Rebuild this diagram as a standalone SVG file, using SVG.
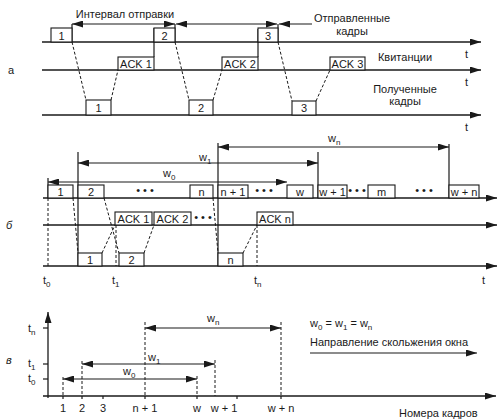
<svg xmlns="http://www.w3.org/2000/svg" width="500" height="419" viewBox="0 0 500 419">
<defs>
<marker id="ah" markerWidth="11" markerHeight="7" refX="11" refY="3.5" orient="auto-start-reverse" markerUnits="userSpaceOnUse">
<path d="M0,0 L11,3.5 L0,7 z" fill="#1a1a1a"/>
</marker>
<style>
.ln{stroke:#1a1a1a;stroke-width:1.2;fill:none}
.ax{stroke:#1a1a1a;stroke-width:1.3;fill:none;marker-end:url(#ah)}
.bx{stroke:#1a1a1a;stroke-width:1.1;fill:#fff}
.ds{stroke:#1a1a1a;stroke-width:1;fill:none;stroke-dasharray:3,2}
.dbl{stroke:#1a1a1a;stroke-width:1.1;fill:none;marker-start:url(#ah);marker-end:url(#ah)}
.one{stroke:#1a1a1a;stroke-width:1.1;fill:none;marker-end:url(#ah)}
text{font-family:"Liberation Sans",Arial,sans-serif;font-size:11px;fill:#1a1a1a}
.c{text-anchor:middle}
.sub{font-size:8px}
</style>
</defs>
<rect width="500" height="419" fill="#fff"/>

<!-- Section a -->
<g id="section-a">
<text x="8" y="74">а</text>
<g id="axes-a">
<line class="ax" x1="42" y1="42" x2="481" y2="42"/>
<line class="ax" x1="42" y1="70" x2="481" y2="70"/>
<line class="ax" x1="42" y1="115" x2="481" y2="115"/>
<text x="465" y="58">t</text>
<text x="465" y="86">t</text>
<text x="465" y="131">t</text>
</g>
<g id="connectors-a">
<line class="dbl" x1="72" y1="24" x2="175" y2="24"/>
<line class="dbl" x1="176" y1="24" x2="277" y2="24"/>
<line class="ln" x1="279" y1="24" x2="312" y2="24" style="marker-start:url(#ah)"/>
<line class="ln" x1="72" y1="24" x2="72" y2="42"/>
<line class="ln" x1="175" y1="24" x2="175" y2="42"/>
<line class="ln" x1="278" y1="24" x2="278" y2="42"/>
<line class="ln" x1="154" y1="28" x2="154" y2="57"/>
<line class="ln" x1="258" y1="29" x2="258" y2="57"/>
<line class="ds" x1="72" y1="42" x2="86" y2="100"/>
<line class="ds" x1="111" y1="100" x2="118" y2="70"/>
<line class="ds" x1="175" y1="42" x2="189" y2="100"/>
<line class="ds" x1="213" y1="100" x2="222" y2="70"/>
<line class="ds" x1="278" y1="42" x2="292" y2="101"/>
<line class="ds" x1="316" y1="101" x2="330" y2="70"/>
</g>
<g id="sent-a1"><rect class="bx" x="51" y="28" width="21" height="14"/><text class="c" x="61.5" y="39.5">1</text></g>
<g id="sent-a2"><rect class="bx" x="154" y="28" width="21" height="14"/><text class="c" x="164.5" y="39.5">2</text></g>
<g id="sent-a3"><rect class="bx" x="258" y="28" width="20" height="14"/><text class="c" x="268" y="39.5">3</text></g>
<g id="ack-a1"><rect class="bx" x="118" y="57" width="36" height="13"/><text class="c" x="136" y="67.5">ACK 1</text></g>
<g id="ack-a2"><rect class="bx" x="222" y="57" width="36" height="13"/><text class="c" x="240" y="67.5">ACK 2</text></g>
<g id="ack-a3"><rect class="bx" x="330" y="57" width="35" height="13"/><text class="c" x="347.5" y="67.5">ACK 3</text></g>
<g id="recv-a1"><rect class="bx" x="86" y="100" width="25" height="15"/><text class="c" x="98.5" y="112">1</text></g>
<g id="recv-a2"><rect class="bx" x="189" y="100" width="24" height="15"/><text class="c" x="201" y="112">2</text></g>
<g id="recv-a3"><rect class="bx" x="292" y="101" width="24" height="14"/><text class="c" x="304" y="112">3</text></g>
<text class="c" x="125" y="18">Интервал отправки</text>
<text class="c" x="352" y="22">Отправленные</text>
<text class="c" x="352" y="35">кадры</text>
<text class="c" x="405" y="61">Квитанции</text>
<text class="c" x="405" y="93">Полученные</text>
<text class="c" x="405" y="105">кадры</text>
</g>

<!-- Section b -->
<g id="section-b">
<text x="6" y="229" font-style="italic">б</text>
<g id="axes-b">
<line class="ax" x1="43" y1="198" x2="497" y2="198"/>
<line class="ax" x1="43" y1="225" x2="497" y2="225"/>
<line class="ax" x1="43" y1="266" x2="497" y2="266"/>
<text x="482" y="284">t</text>
</g>
<g id="connectors-b">
<line class="dbl" x1="218" y1="147" x2="449" y2="147"/>
<line class="dbl" x1="78" y1="163" x2="318" y2="163"/>
<line class="dbl" x1="48" y1="182" x2="287" y2="182"/>
<line class="ln" x1="218" y1="143" x2="218" y2="266"/>
<line class="ln" x1="449" y1="144" x2="449" y2="198"/>
<line class="ln" x1="78" y1="152" x2="78" y2="266"/>
<line class="ln" x1="318" y1="152" x2="318" y2="198"/>
<line class="ln" x1="48" y1="178" x2="48" y2="198"/>
<line class="ds" x1="48" y1="198" x2="48" y2="266"/>
<line class="ds" x1="73" y1="198" x2="78" y2="253"/>
<line class="ds" x1="102" y1="253" x2="115" y2="225"/>
<line class="ds" x1="104" y1="198" x2="119" y2="253"/>
<line class="ds" x1="116" y1="225" x2="116" y2="266"/>
<line class="ds" x1="144" y1="253" x2="154" y2="225"/>
<line class="ds" x1="213" y1="198" x2="218" y2="253"/>
<line class="ds" x1="243" y1="253" x2="257" y2="225"/>
<line class="ds" x1="257" y1="225" x2="257" y2="266"/>
</g>
<text x="328" y="142">w<tspan class="sub" dy="3">n</tspan></text>
<text x="199" y="161">w<tspan class="sub" dy="3">1</tspan></text>
<text x="163" y="177">w<tspan class="sub" dy="3">0</tspan></text>
<g id="sent-b1"><rect class="bx" x="48" y="185" width="25" height="13"/><text class="c" x="60.5" y="195.5">1</text></g>
<g id="sent-b2"><rect class="bx" x="78" y="185" width="26" height="13"/><text class="c" x="91" y="195.5">2</text></g>
<text class="c" x="145" y="194">• • •</text>
<g id="sent-bn"><rect class="bx" x="190" y="185" width="23" height="13"/><text class="c" x="201.5" y="195.5">n</text></g>
<g id="sent-bn1"><rect class="bx" x="218" y="185" width="30" height="13"/><text class="c" x="233" y="195.5">n + 1</text></g>
<text class="c" x="264" y="194">• • •</text>
<g id="sent-bw"><rect class="bx" x="287" y="185" width="26" height="13"/><text class="c" x="300" y="195.5">w</text></g>
<g id="sent-bw1"><rect class="bx" x="318" y="185" width="29" height="13"/><text class="c" x="332.5" y="195.5">w + 1</text></g>
<text class="c" x="357" y="194">• • •</text>
<g id="sent-bm"><rect class="bx" x="368" y="185" width="27" height="13"/><text class="c" x="381.5" y="195.5">m</text></g>
<text class="c" x="424" y="194">• • •</text>
<g id="sent-bwn"><rect class="bx" x="449" y="185" width="30" height="13"/><text class="c" x="464" y="195.5">w + n</text></g>
<g id="ack-b1"><rect class="bx" x="115" y="212" width="37" height="13"/><text class="c" x="133.5" y="222.5">ACK 1</text></g>
<g id="ack-b2"><rect class="bx" x="154" y="212" width="37" height="13"/><text class="c" x="172.5" y="222.5">ACK 2</text></g>
<text class="c" x="203" y="221">• • •</text>
<g id="ack-bn"><rect class="bx" x="257" y="212" width="36" height="13"/><text class="c" x="275" y="222.5">ACK n</text></g>
<g id="recv-b1"><rect class="bx" x="78" y="253" width="24" height="13"/><text class="c" x="90" y="263.5">1</text></g>
<g id="recv-b2"><rect class="bx" x="119" y="253" width="25" height="13"/><text class="c" x="131.5" y="263.5">2</text></g>
<g id="recv-bn"><rect class="bx" x="218" y="253" width="25" height="13"/><text class="c" x="230.5" y="263.5">n</text></g>
<text x="43" y="284">t<tspan class="sub" dy="3">0</tspan></text>
<text x="112" y="284">t<tspan class="sub" dy="3">1</tspan></text>
<text x="254" y="284">t<tspan class="sub" dy="3">n</tspan></text>
</g>

<!-- Section v -->
<g id="section-v">
<text x="6" y="364" font-style="italic">в</text>
<g id="axes-v">
<line class="ax" x1="48" y1="398" x2="48" y2="312"/>
<line class="ax" x1="43" y1="396" x2="496" y2="396"/>
<line class="ln" x1="43" y1="328" x2="48" y2="328"/>
<line class="ln" x1="43" y1="364" x2="48" y2="364"/>
<line class="ln" x1="43" y1="379" x2="48" y2="379"/>
<line class="ln" x1="63" y1="396" x2="63" y2="399"/>
<line class="ln" x1="82" y1="396" x2="82" y2="399"/>
<line class="ln" x1="103" y1="396" x2="103" y2="399"/>
<line class="ln" x1="145" y1="396" x2="145" y2="399"/>
<line class="ln" x1="197" y1="396" x2="197" y2="399"/>
<line class="ln" x1="237" y1="396" x2="237" y2="399"/>
<line class="ln" x1="281" y1="396" x2="281" y2="399"/>
<text x="28" y="332">t<tspan class="sub" dy="3">n</tspan></text>
<text x="28" y="367">t<tspan class="sub" dy="3">1</tspan></text>
<text x="28" y="382">t<tspan class="sub" dy="3">0</tspan></text>
<text class="c" x="63" y="412">1</text>
<text class="c" x="82" y="412">2</text>
<text class="c" x="103" y="412">3</text>
<text class="c" x="145" y="412">n + 1</text>
<text class="c" x="197" y="412">w</text>
<text class="c" x="224" y="412">w + 1</text>
<text class="c" x="281" y="412">w + n</text>
</g>
<g id="connectors-v">
<line class="ds" x1="63" y1="377" x2="63" y2="396"/>
<line class="ds" x1="82" y1="361" x2="82" y2="396"/>
<line class="ds" x1="145" y1="322" x2="145" y2="396"/>
<line class="ds" x1="197" y1="376" x2="197" y2="396"/>
<line class="ds" x1="215" y1="360" x2="215" y2="396"/>
<line class="ds" x1="281" y1="322" x2="281" y2="396"/>
<line class="dbl" x1="63" y1="379" x2="197" y2="379"/>
<line class="dbl" x1="82" y1="364" x2="215" y2="364"/>
<line class="dbl" x1="145" y1="328" x2="281" y2="328"/>
<line class="one" x1="310" y1="353" x2="477" y2="353"/>
</g>
<text x="123" y="375">w<tspan class="sub" dy="3">0</tspan></text>
<text x="148" y="361">w<tspan class="sub" dy="3">1</tspan></text>
<text x="207" y="322">w<tspan class="sub" dy="3">n</tspan></text>
<text x="310" y="327">w<tspan class="sub" dy="3">0</tspan><tspan dy="-3"> = w</tspan><tspan class="sub" dy="3">1</tspan><tspan dy="-3"> = w</tspan><tspan class="sub" dy="3">n</tspan></text>
<text x="310" y="346">Направление скольжения окна</text>
<text x="399" y="417">Номера кадров</text>
</g>
</svg>
